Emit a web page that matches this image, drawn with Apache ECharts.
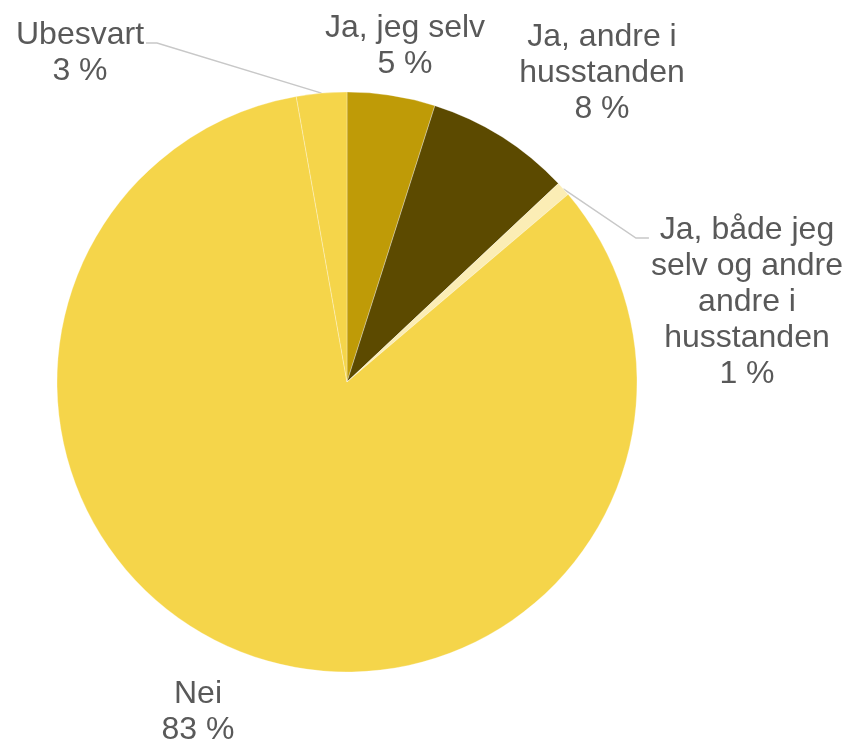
<!DOCTYPE html>
<html>
<head>
<meta charset="utf-8">
<script src="https://cdn.jsdelivr.net/npm/echarts@6/dist/echarts.min.js"></script>
<style>
  html, body { margin: 0; padding: 0; background: #fff; }
  #chart { width: 849px; height: 741px; }
</style>
</head>
<body>
<div id="chart"></div>
<script>
    // svar-kategorier og andeler (%)
    var categories = [
        'Ja, jeg selv',
        'Ja, andre i\nhusstanden',
        'Ja, både jeg\nselv og andre\nandre i\nhusstanden',
        'Nei',
        'Ubesvart'
    ];
    var shares = [4.9, 8.1, 0.8, 83.4, 2.8];
    var sliceColors = ['#BF9B07', '#5C4A00', '#FBEDB5', '#F5D54A', '#F5D54A'];
    var showLeader = [false, false, true, false, true];

    // label placement (centre of each label box)
    var labelPos = [[405, 46], [602, 73], [747, 302], [198, 712], [80, 53]];
    var lineH = 36;

    var myChart = echarts.init(document.getElementById('chart'));

    var pieData = [];
    for (let i = 0; i < categories.length; i++) {
        pieData.push({
            name: categories[i],
            value: shares[i],
            itemStyle: { color: sliceColors[i] },
            labelLine: { show: showLeader[i] }
        });
    }

    myChart.setOption({
        animation: false,
        series: [
            {
                type: 'pie',
                center: [347, 382],
                radius: 290,
                startAngle: 90,
                clockwise: true,
                avoidLabelOverlap: false,
                itemStyle: {
                    borderColor: 'rgba(255,255,255,0.3)',
                    borderWidth: 1
                },
                label: {
                    show: true,
                    position: 'outside',
                    color: '#595959',
                    fontFamily: 'Liberation Sans, Arial, sans-serif',
                    fontSize: 32,
                    lineHeight: lineH,
                    align: 'center',
                    formatter: function (p) {
                        return p.name + '\n' + Math.round(p.value) + ' %';
                    }
                },
                labelLine: {
                    lineStyle: { color: '#C8C8C8', width: 1.5 },
                    length: 20,
                    length2: 12
                },
                labelLayout: function (params) {
                    var pos = labelPos[params.dataIndex];
                    var out = {
                        x: pos[0],
                        y: pos[1],
                        align: 'center',
                        verticalAlign: 'middle'
                    };
                    var pts = params.labelLinePoints;
                    if (showLeader[params.dataIndex] && pts) {
                        var r = params.labelRect;
                        var start = pts[0];
                        // attach near the baseline of the first text line, on the side facing the pie
                        var onRight = start[0] > pos[0];
                        var ex = onRight ? pos[0] + r.width / 2 + 2 : pos[0] - r.width / 2 - 2;
                        var ey = pos[1] - r.height / 2 + lineH / 2 + 8;
                        var bx = onRight ? ex + 11 : ex - 13;
                        out.labelLinePoints = [start, [bx, ey], [ex, ey]];
                    }
                    return out;
                },
                data: pieData
            }
        ]
    });
</script>
</body>
</html>
